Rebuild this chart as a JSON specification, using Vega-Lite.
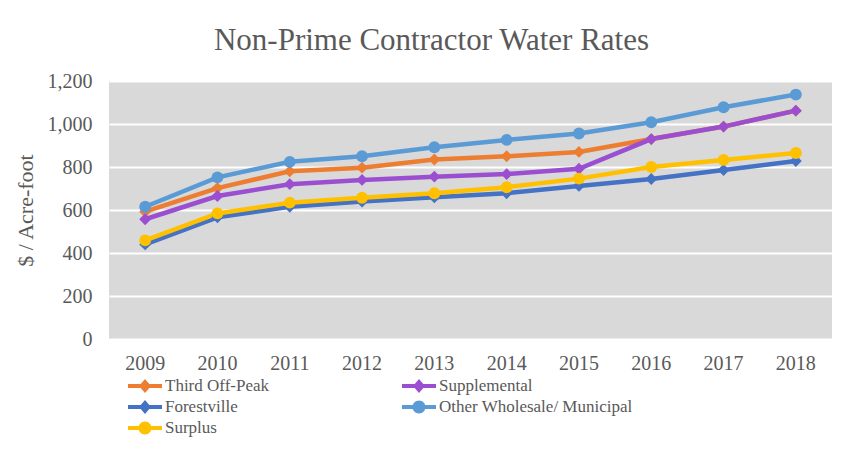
{
  "$schema": "https://vega.github.io/schema/vega-lite/v6.json",
  "width": 723,
  "height": 258,
  "autosize": {"type": "none"},
  "padding": {"left": 109, "top": 81, "right": 11, "bottom": 112},
  "background": "white",
  "title": {
    "text": "Non-Prime Contractor Water Rates",
    "font": "Liberation Serif, Times New Roman, serif",
    "fontSize": 31,
    "fontWeight": "normal",
    "color": "#595959",
    "anchor": "middle",
    "frame": "group",
    "dx": -39,
    "offset": 14
  },
  "config": {
    "view": {"stroke": null, "fill": "#D9D9D9"},
    "axis": {
      "labelFont": "Liberation Serif, Times New Roman, serif",
      "titleFont": "Liberation Serif, Times New Roman, serif",
      "labelColor": "#595959",
      "titleColor": "#595959",
      "labelFontSize": 20,
      "titleFontSize": 22,
      "titleFontWeight": "normal",
      "domain": false,
      "ticks": false
    },
    "legend": {
      "labelFont": "Liberation Serif, Times New Roman, serif",
      "labelFontSize": 17,
      "labelColor": "#595959",
      "labelLimit": 400
    }
  },
  "data": {
    "values": [
      {"series": "Third Off-Peak", "year": "2009", "rate": 592},
      {"series": "Third Off-Peak", "year": "2010", "rate": 702},
      {"series": "Third Off-Peak", "year": "2011", "rate": 780},
      {"series": "Third Off-Peak", "year": "2012", "rate": 797},
      {"series": "Third Off-Peak", "year": "2013", "rate": 835},
      {"series": "Third Off-Peak", "year": "2014", "rate": 850},
      {"series": "Third Off-Peak", "year": "2015", "rate": 870},
      {"series": "Third Off-Peak", "year": "2016", "rate": 930},
      {"series": "Third Off-Peak", "year": "2017", "rate": 988},
      {"series": "Third Off-Peak", "year": "2018", "rate": 1062},
      {"series": "Supplemental", "year": "2009", "rate": 557},
      {"series": "Supplemental", "year": "2010", "rate": 665},
      {"series": "Supplemental", "year": "2011", "rate": 720},
      {"series": "Supplemental", "year": "2012", "rate": 740},
      {"series": "Supplemental", "year": "2013", "rate": 755},
      {"series": "Supplemental", "year": "2014", "rate": 767},
      {"series": "Supplemental", "year": "2015", "rate": 792},
      {"series": "Supplemental", "year": "2016", "rate": 930},
      {"series": "Supplemental", "year": "2017", "rate": 988},
      {"series": "Supplemental", "year": "2018", "rate": 1062},
      {"series": "Forestville", "year": "2009", "rate": 440},
      {"series": "Forestville", "year": "2010", "rate": 566},
      {"series": "Forestville", "year": "2011", "rate": 615},
      {"series": "Forestville", "year": "2012", "rate": 639},
      {"series": "Forestville", "year": "2013", "rate": 659},
      {"series": "Forestville", "year": "2014", "rate": 678},
      {"series": "Forestville", "year": "2015", "rate": 712},
      {"series": "Forestville", "year": "2016", "rate": 744},
      {"series": "Forestville", "year": "2017", "rate": 786},
      {"series": "Forestville", "year": "2018", "rate": 828},
      {"series": "Other Wholesale/ Municipal", "year": "2009", "rate": 615},
      {"series": "Other Wholesale/ Municipal", "year": "2010", "rate": 752},
      {"series": "Other Wholesale/ Municipal", "year": "2011", "rate": 824},
      {"series": "Other Wholesale/ Municipal", "year": "2012", "rate": 850},
      {"series": "Other Wholesale/ Municipal", "year": "2013", "rate": 892},
      {"series": "Other Wholesale/ Municipal", "year": "2014", "rate": 926},
      {"series": "Other Wholesale/ Municipal", "year": "2015", "rate": 956},
      {"series": "Other Wholesale/ Municipal", "year": "2016", "rate": 1008},
      {"series": "Other Wholesale/ Municipal", "year": "2017", "rate": 1078},
      {"series": "Other Wholesale/ Municipal", "year": "2018", "rate": 1137},
      {"series": "Surplus", "year": "2009", "rate": 459},
      {"series": "Surplus", "year": "2010", "rate": 584},
      {"series": "Surplus", "year": "2011", "rate": 634},
      {"series": "Surplus", "year": "2012", "rate": 657},
      {"series": "Surplus", "year": "2013", "rate": 678},
      {"series": "Surplus", "year": "2014", "rate": 706},
      {"series": "Surplus", "year": "2015", "rate": 746},
      {"series": "Surplus", "year": "2016", "rate": 800},
      {"series": "Surplus", "year": "2017", "rate": 833},
      {"series": "Surplus", "year": "2018", "rate": 865}
    ]
  },
  "encoding": {
    "x": {
      "field": "year",
      "type": "ordinal",
      "scale": {"type": "band", "paddingInner": 0, "paddingOuter": 0},
      "axis": {"title": null, "labelAngle": 0, "labelPadding": 14, "grid": false}
    },
    "y": {
      "field": "rate",
      "type": "quantitative",
      "scale": {"domain": [0, 1200], "nice": false},
      "axis": {
        "title": "$ / Acre-foot",
        "values": [0, 200, 400, 600, 800, 1000, 1200],
        "format": ",d",
        "labelPadding": 17,
        "titlePadding": 10,
        "grid": true,
        "gridColor": "white",
        "gridWidth": 2
      }
    },
    "color": {
      "field": "series",
      "type": "nominal",
      "sort": ["Third Off-Peak", "Supplemental", "Forestville", "Other Wholesale/ Municipal", "Surplus"],
      "scale": {
        "domain": ["Third Off-Peak", "Supplemental", "Forestville", "Other Wholesale/ Municipal", "Surplus"],
        "range": ["#ED7D31", "#9B4FD0", "#4472C4", "#5B9BD5", "#FFC000"]
      },
      "legend": {
        "title": null,
        "orient": "none",
        "direction": "horizontal",
        "legendX": 26,
        "legendY": 295,
        "columns": 2,
        "columnPadding": 132,
        "rowPadding": 3,
        "symbolSize": 400,
        "labelOffset": 10,
        "encode": {
          "symbols": {
            "update": {
              "shape": {"signal": "(datum.value == 'Surplus' || datum.value == 'Other Wholesale/ Municipal') ? 'M-1.7,-0.2L1.7,-0.2L1.7,0.2L-1.7,0.2Z M-0.65,0A0.65,0.65 0 1,1 0.65,0A0.65,0.65 0 1,1 -0.65,0Z' : 'M-1.7,-0.2L1.7,-0.2L1.7,0.2L-1.7,0.2Z M0,-0.7L0.6,0L0,0.7L-0.6,0Z'"},
              "fill": {"scale": "color", "field": "value"},
              "stroke": {"value": "transparent"},
              "strokeWidth": {"value": 0}
            }
          }
        }
      }
    }
  },
  "layer": [
    {
      "mark": {"type": "line", "strokeWidth": 4.5},
      "encoding": {"order": {"field": "year"}}
    },
    {
      "transform": [{"filter": {"field": "series", "oneOf": ["Third Off-Peak", "Supplemental", "Forestville"]}}],
      "mark": {"type": "point", "filled": true, "opacity": 1, "size": 140, "shape": "diamond"}
    },
    {
      "transform": [{"filter": {"field": "series", "oneOf": ["Other Wholesale/ Municipal", "Surplus"]}}],
      "mark": {"type": "point", "filled": true, "opacity": 1, "size": 140, "shape": "circle"}
    }
  ]
}
